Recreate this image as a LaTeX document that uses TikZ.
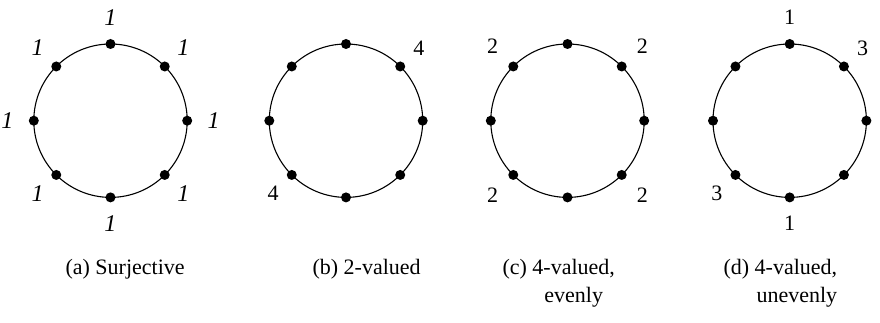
\documentclass[tikz,border=0pt]{standalone}
\usepackage{fontspec}
\setmainfont{Liberation Serif}
\usetikzlibrary{positioning}
\pgfmathsetmacro{\myr}{76.7}
\pgfmathsetmacro{\myl}{103}
\pgfmathsetmacro{\mycy}{201.3}
\tikzset{
  dot/.style = {circle, fill=black, inner sep=0pt, minimum size=5pt},
  val/.style = {inner sep=0pt},
  captxt/.style = {inner sep=0pt, anchor=base west, align=center}
}

\begin{document}
\begin{tikzpicture}[x=0.5pt, y=0.5pt, line width=0.55pt, font=\fontsize{11}{14}\selectfont]
\useasboundingbox (0,0) rectangle (880,322);

% the four circles, eight points each
\foreach \n/\cx in {a/110.5, b/346, c/567.5, d/789.7}{
  \coordinate (o\n) at (\cx,\mycy);
  \draw (o\n) circle (\myr);
  \foreach \k in {0,...,7}{
    \node[dot] (\n\k) at ([shift={(\k*45:\myr)}]o\n) {};
  }
}

% (a) every point gets a 1
\foreach \k in {0,...,7}{
  \node[val, font=\fontsize{12}{14}\selectfont\itshape] (la\k) at ([shift={(\k*45:\myl)}]oa) {1};
}
% (b)
\node[val] (lb1) at ([shift={(45:\myl)}]ob) {4};
\node[val] (lb5) at ([shift={(225:\myl)}]ob) {4};
% (c)
\foreach \k in {1,3,5,7}{
  \node[val] (lc\k) at ([shift={(\k*45:\myl+3)}]oc) {2};
}
% (d)
\node[val] (ld2) at ([shift={(90:\myl)}]od) {1};
\node[val] (ld1) at ([shift={(45:\myl)}]od) {3};
\node[val] (ld5) at ([shift={(225:\myl)}]od) {3};
\node[val] (ld6) at ([shift={(270:\myl)}]od) {1};

% captions
\node[captxt] (capa) at (65,47) {(a) Surjective};
\node[captxt] (capb) at (312,47) {(b) 2-valued};
\node[captxt] (capc) at (502,47) {(c) \begin{tabular}[t]{@{}c@{}}4-valued,\\ evenly\end{tabular}};
\node[captxt] (capd) at (723,47) {(d) \begin{tabular}[t]{@{}r@{}}4-valued,\\ unevenly\end{tabular}};
\end{tikzpicture}
\end{document}
